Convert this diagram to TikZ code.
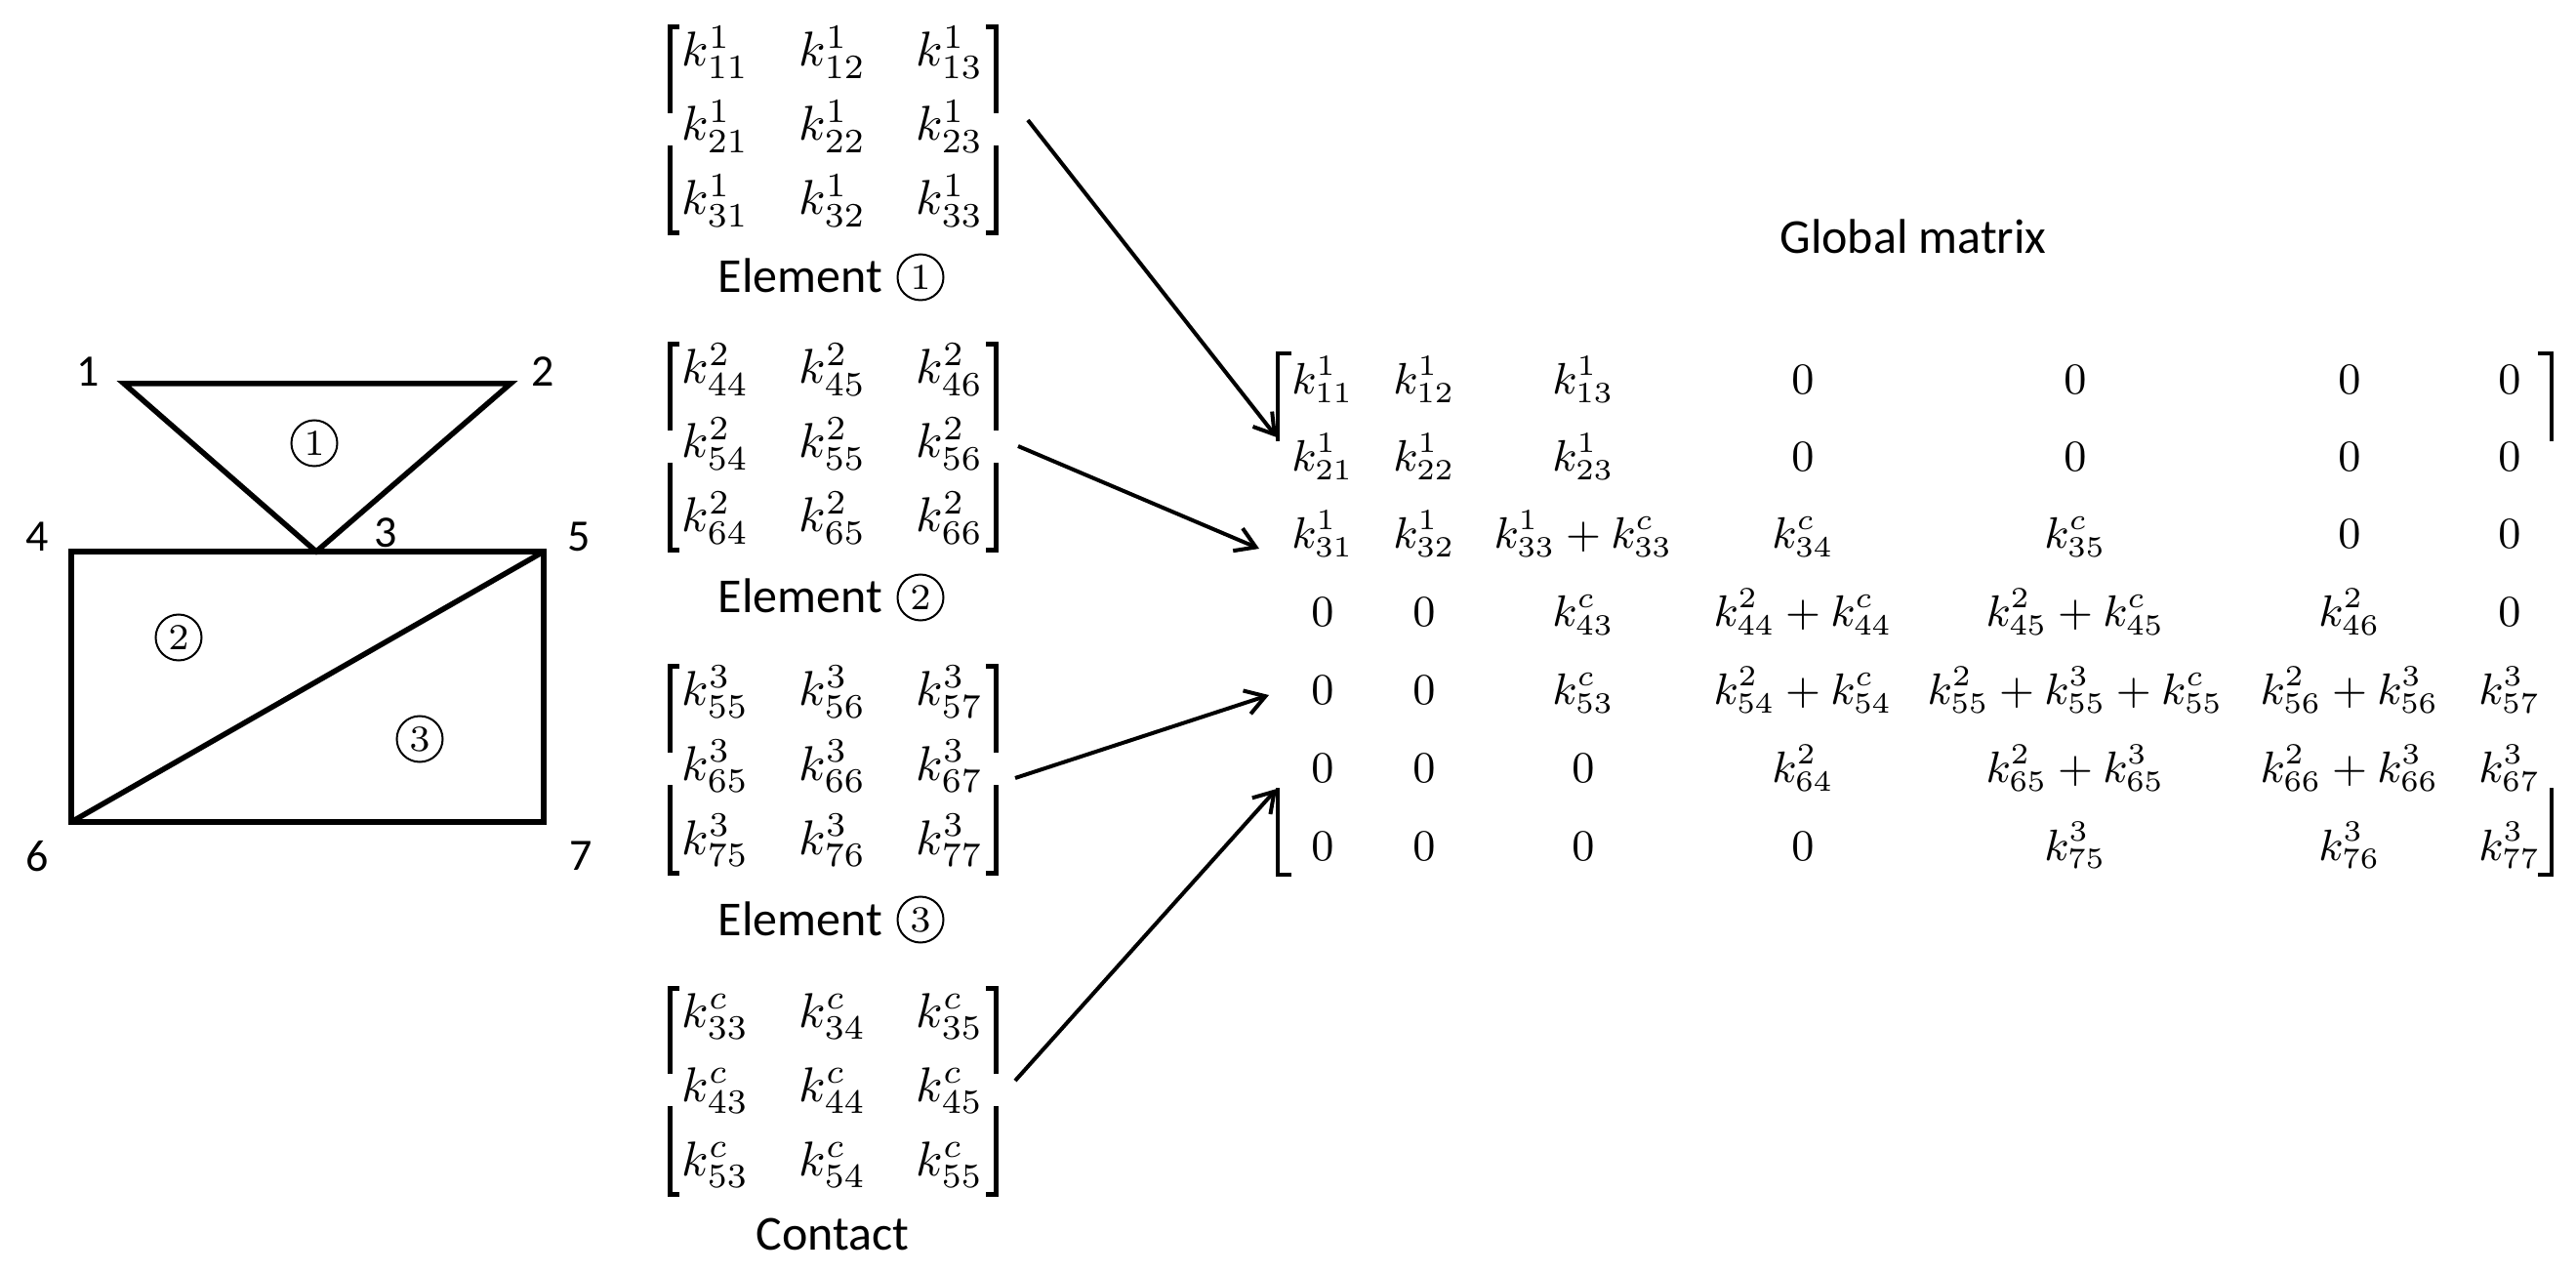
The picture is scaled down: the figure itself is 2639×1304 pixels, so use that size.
\documentclass[tikz,border=0pt]{standalone}
\usepackage{fix-cm}
\usepackage[no-math]{fontspec}
\setmainfont{Carlito}
\usetikzlibrary{arrows.meta}

\tikzset{
  edge/.style={line width=1.1pt, line join=miter},
  bra/.style={line width=1pt},
  gbra/.style={line width=0.8pt},
  num/.style={inner sep=0pt, font=\fontsize{9.2}{11}\selectfont},
  elnum/.style={circle, draw, line width=0.4pt, minimum size=9.4pt, inner sep=0pt, font=\fontsize{7.5}{9}\selectfont},
  ent/.style={anchor=base, inner sep=0pt},
  gent/.style={ent, font=\fontsize{9}{11}\selectfont},
  lab/.style={anchor=base, inner sep=0pt, font=\fontsize{10}{12}\selectfont},
  link/.style={line width=0.8pt, -{Straight Barb[length=4pt,width=5pt]}},
}

\begin{document}
\begin{tikzpicture}[x=0.2pt, y=-0.2pt]
  \useasboundingbox (0,0) rectangle (2639,1304);

  % mesh
  \coordinate (n1) at (127,393);
  \coordinate (n2) at (523,393);
  \coordinate (n3) at (324,565);
  \coordinate (n4) at (73,565);
  \coordinate (n5) at (557,565);
  \coordinate (n6) at (73,842);
  \coordinate (n7) at (557,842);
  \draw[edge] (n1) -- (n2) -- (n3) -- cycle;
  \draw[edge] (n4) rectangle (n7);
  \draw[edge] (n6) -- (n5);
  \draw
    (90,381) node[num] (l1){1}
    (556,381) node[num] (l2){2}
    (395,546) node[num] (l3){3}
    (38,550) node[num] (l4){4}
    (593,550) node[num] (l5){5}
    (38,877) node[num] (l6){6}
    (595,877) node[num] (l7){7};
  \node[elnum] (m1) at (322,454) {$1$};
  \node[elnum] (m2) at (183,653) {$2$};
  \node[elnum] (m3) at (430,757) {$3$};

  % element matrices
  \foreach \nm/\up/\a/\b/\c/\y in {E1/1/1/2/3/52, E2/2/4/5/6/377, E3/3/5/6/7/707, C/c/3/4/5/1036} {
    \foreach \i [count=\r] in {\a,\b,\c}
      \foreach \j [count=\s] in {\a,\b,\c}
        \node[ent] (\nm-\r\s) at ({613+120*\s},{\y+16+76*(\r-1)}) {$k^{\up}_{\i\j}$};
    \draw[bra] (696,{\y-24}) -- (686,{\y-24}) -- (686,{\y+64});
    \draw[bra] (686,{\y+97}) -- (686,{\y+187}) -- (696,{\y+187});
    \draw[bra] (1010,{\y-24}) -- (1020,{\y-24}) -- (1020,{\y+64});
    \draw[bra] (1020,{\y+97}) -- (1020,{\y+187}) -- (1010,{\y+187});
  }
  \foreach \nm/\n/\y in {E1/1/300, E2/2/628, E3/3/958} {
    \node[lab] (\nm-txt) at (820,\y) {Element};
    \node[elnum] (\nm-no) at (943,{\y-16}) {$\n$};
  }
  \node[lab] (C-txt) at (853,1280) {Contact};

  % global matrix
  \node[lab] (gtitle) at (1960,260) {Global matrix};
  \foreach \x [count=\c] in {1355,1459,1622,1847,2126,2407,2571}
    \coordinate (c\c) at (\x,0);
  \foreach \y [count=\r] in {404,483,562,642,722,802,881}
    \coordinate (r\r) at (0,\y);
  \foreach \e [count=\c] in {k^1_{11},k^1_{12},k^1_{13},0,0,0,0}
    \node[gent] (g1\c) at (c\c |- r1) {$\e$};
  \foreach \e [count=\c] in {k^1_{21},k^1_{22},k^1_{23},0,0,0,0}
    \node[gent] (g2\c) at (c\c |- r2) {$\e$};
  \foreach \e [count=\c] in {k^1_{31},k^1_{32},k^1_{33}+k^c_{33},k^c_{34},k^c_{35},0,0}
    \node[gent] (g3\c) at (c\c |- r3) {$\e$};
  \foreach \e [count=\c] in {0,0,k^c_{43},k^2_{44}+k^c_{44},k^2_{45}+k^c_{45},k^2_{46},0}
    \node[gent] (g4\c) at (c\c |- r4) {$\e$};
  \foreach \e [count=\c] in {0,0,k^c_{53},k^2_{54}+k^c_{54},k^2_{55}+k^3_{55}+k^c_{55},k^2_{56}+k^3_{56},k^3_{57}}
    \node[gent] (g5\c) at (c\c |- r5) {$\e$};
  \foreach \e [count=\c] in {0,0,0,k^2_{64},k^2_{65}+k^3_{65},k^2_{66}+k^3_{66},k^3_{67}}
    \node[gent] (g6\c) at (c\c |- r6) {$\e$};
  \foreach \e [count=\c] in {0,0,0,0,k^3_{75},k^3_{76},k^3_{77}}
    \node[gent] (g7\c) at (c\c |- r7) {$\e$};
  \draw[gbra] (1323,362) -- (1309,362) -- (1309,452);
  \draw[gbra] (1309,807) -- (1309,896) -- (1323,896);
  \draw[gbra] (2600,362) -- (2614,362) -- (2614,452);
  \draw[gbra] (2614,807) -- (2614,896) -- (2600,896);

  % assembly arrows
  \coordinate (a1) at (1053,123);
  \coordinate (a2) at (1043,457);
  \coordinate (a3) at (1040,797);
  \coordinate (a4) at (1040,1107);
  \coordinate (b1) at (1308,448);
  \coordinate (b2) at (1290,562);
  \coordinate (b3) at (1300,712);
  \coordinate (b4) at (1308,808);
  \draw[link] (a1) -- (b1);
  \draw[link] (a2) -- (b2);
  \draw[link] (a3) -- (b3);
  \draw[link] (a4) -- (b4);
\end{tikzpicture}
\end{document}
